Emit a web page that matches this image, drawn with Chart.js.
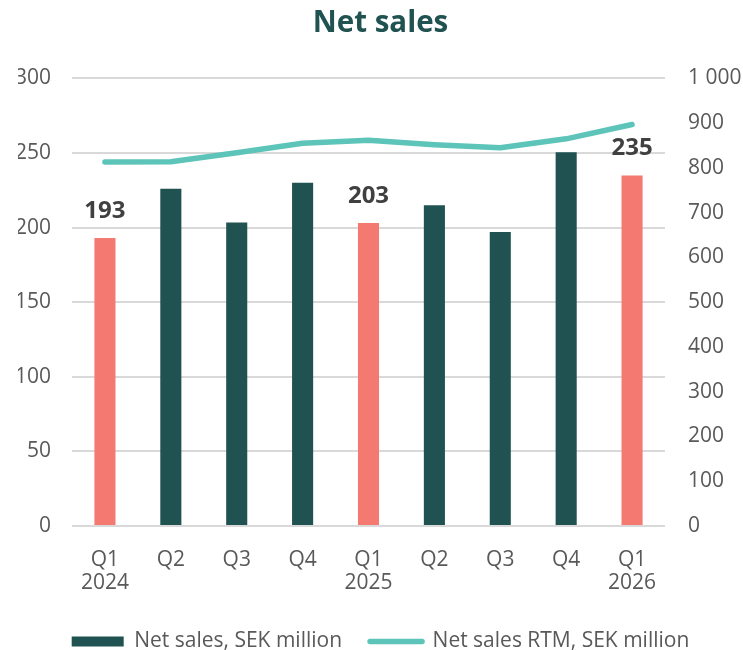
<!DOCTYPE html>
<html>
<head>
<meta charset="utf-8">
<title>Net sales</title>
<script src="https://cdn.jsdelivr.net/npm/chart.js@4.4.1/dist/chart.umd.min.js"></script>
<style>
  html, body { margin: 0; padding: 0; background: #fff; }
  #wrap { width: 743px; height: 650px; }
</style>
</head>
<body>
<div id="wrap"><canvas id="salesChart"></canvas></div>
<script>
// quarters, two lines each (quarter / year)
const quarters = [
  ['Q1', '2024'], ['Q2', ''], ['Q3', ''], ['Q4', ''],
  ['Q1', '2025'], ['Q2', ''], ['Q3', ''], ['Q4', ''],
  ['Q1', '2026']
];

// net sales per quarter, SEK million (left axis)
const netSales = [193, 226, 203.5, 230, 203, 215, 197, 250.5, 235];

// rolling twelve months, SEK million (right axis)
const netSalesRtm = [813, 814, 834, 855, 862, 852, 845, 865, 897];

// first quarters are highlighted and get a value label
const highlighted = [0, 4, 8];

const leftTicks = { min: 0, max: 300, step: 50 };
const rightTicks = { min: 0, max: 1000, step: 100 };

const DARK = '#1f5250';
const SALMON = '#f47a71';
const TEAL = '#5cc4b8';
const GREY_TEXT = '#595959';

Chart.defaults.font.family = "'Open Sans', sans-serif";

// draws the numbers above the highlighted bars
const barValueLabels = {
  id: 'barValueLabels',
  afterDatasetsDraw(chart) {
    const meta = chart.getDatasetMeta(0);
    const ctx = chart.ctx;
    ctx.save();
    ctx.font = "bold 24px 'Open Sans', sans-serif";
    ctx.fillStyle = '#404040';
    ctx.textAlign = 'center';
    ctx.textBaseline = 'alphabetic';
    highlighted.forEach(i => {
      const bar = meta.data[i];
      ctx.fillText(String(Math.round(netSales[i])), bar.x, bar.y - 20);
    });
    ctx.restore();
  }
};

const ctx = document.getElementById('salesChart').getContext('2d');

const chart = new Chart(ctx, {
  type: 'bar',
  data: {
    labels: quarters,
    datasets: [
      {
        label: 'Net sales, SEK million',
        data: netSales,
        backgroundColor: c => highlighted.includes(c.dataIndex) ? SALMON : DARK,
        barPercentage: 0.32,
        categoryPercentage: 1,
        yAxisID: 'y'
      },
      {
        type: 'line',
        label: 'Net sales RTM, SEK million',
        data: netSalesRtm,
        borderColor: TEAL,
        backgroundColor: TEAL,
        borderWidth: 5.5,
        borderCapStyle: 'round',
        borderJoinStyle: 'round',
        pointRadius: 0,
        tension: 0,
        yAxisID: 'y1'
      }
    ]
  },
  options: {
    responsive: true,
    maintainAspectRatio: false,
    animation: false,
    layout: { padding: { left: 18, right: 0, top: 0, bottom: -12 } },
    plugins: {
      title: {
        display: true,
        text: 'Net sales',
        color: DARK,
        font: { size: 29.5, weight: 'bold' },
        padding: { top: 6, bottom: 37 }
      },
      legend: {
        position: 'bottom',
        labels: {
          usePointStyle: true,
          pointStyleWidth: 52,
          boxHeight: 10,
          padding: 28,
          color: GREY_TEXT,
          font: { size: 21 },
          generateLabels(chart) {
            const items = Chart.defaults.plugins.legend.labels.generateLabels(chart);
            items[0].pointStyle = 'rect';
            items[0].fillStyle = DARK;
            items[0].strokeStyle = DARK;
            items[0].lineWidth = 0;
            items[1].pointStyle = 'line';
            items[1].strokeStyle = TEAL;
            items[1].lineWidth = 5.5;
            items[1].lineCap = 'round';
            return items;
          }
        }
      },
      tooltip: { enabled: false }
    },
    scales: {
      x: {
        offset: true,
        grid: { display: false, drawTicks: false },
        border: { display: false },
        ticks: {
          color: GREY_TEXT,
          font: { size: 21, lineHeight: 1.1 },
          padding: 22,
          maxRotation: 0,
          autoSkip: false
        },
        afterFit(scale) { scale.height = 77; }
      },
      y: {
        position: 'left',
        min: leftTicks.min,
        max: leftTicks.max,
        grid: { color: '#d9d9d9', lineWidth: 2, drawTicks: false },
        border: { display: false },
        ticks: {
          stepSize: leftTicks.step,
          color: GREY_TEXT,
          font: { size: 21 },
          padding: 21
        },
        afterFit(scale) { scale.width = 54; }
      },
      y1: {
        position: 'right',
        min: rightTicks.min,
        max: rightTicks.max,
        grid: { drawOnChartArea: false, drawTicks: false },
        border: { display: false },
        ticks: {
          stepSize: rightTicks.step,
          color: GREY_TEXT,
          font: { size: 21 },
          padding: 23,
          callback: v => String(v).replace(/\B(?=(\d{3})+(?!\d))/g, ' ')
        },
        afterFit(scale) { scale.width = 78; }
      }
    }
  },
  plugins: [barValueLabels]
});
</script>
</body>
</html>
